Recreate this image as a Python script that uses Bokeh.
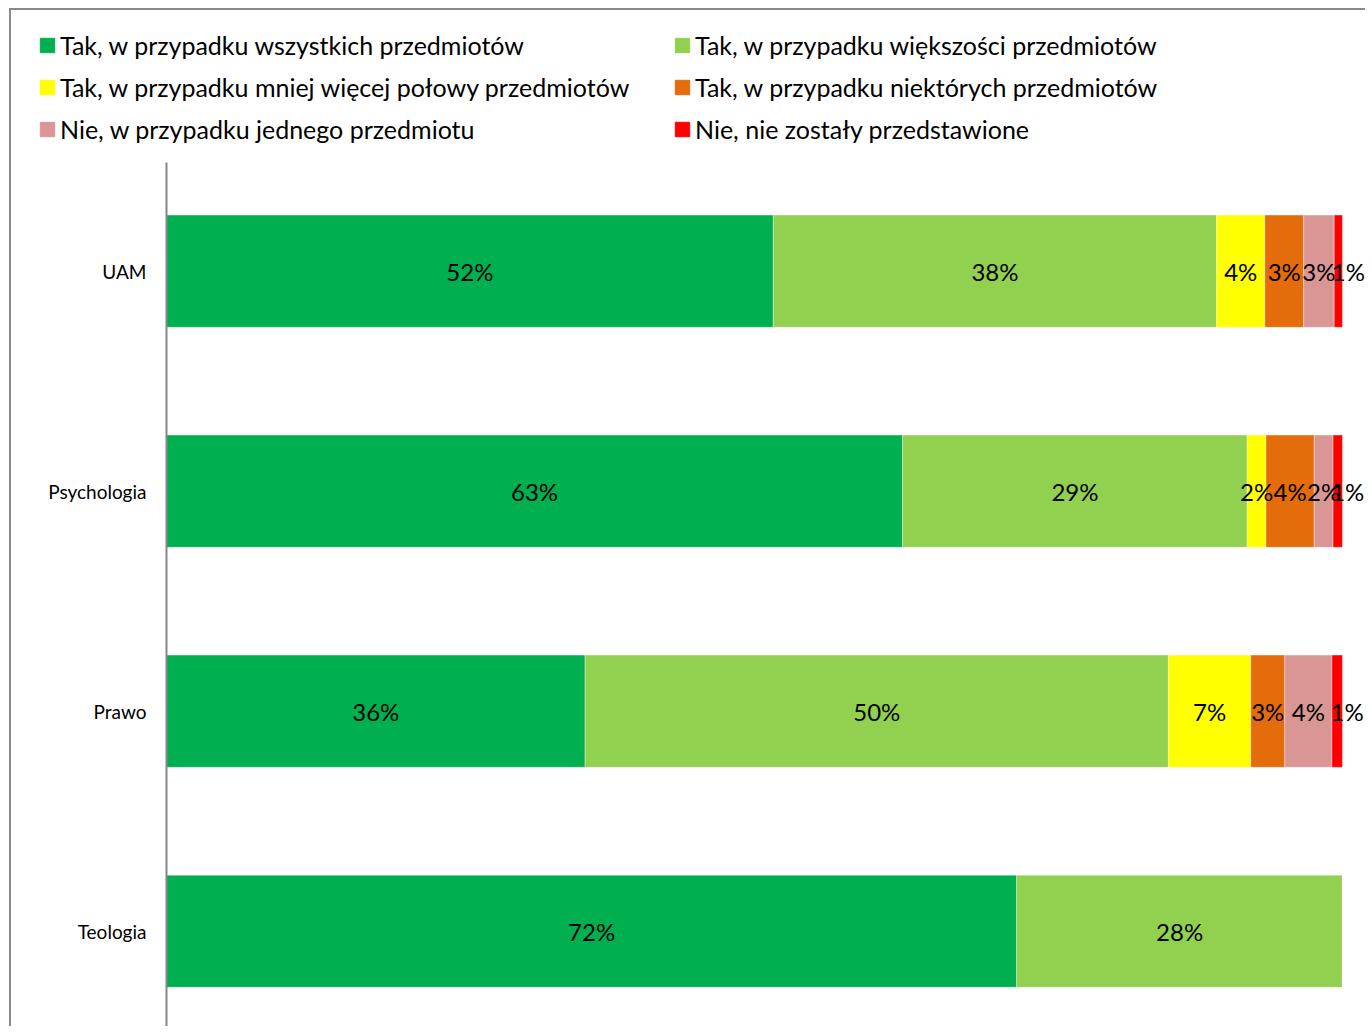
from bokeh.plotting import figure
from bokeh.layouts import column
from bokeh.models import ColumnDataSource, Range1d, Legend, LegendItem, FixedTicker
from bokeh.core.properties import value
from bokeh.embed import file_html
from bokeh.resources import INLINE

categories = ["UAM", "Psychologia", "Prawo", "Teologia"]
series_names = [
    "Tak, w przypadku wszystkich przedmiotów",
    "Tak, w przypadku większości przedmiotów",
    "Tak, w przypadku mniej więcej połowy przedmiotów",
    "Tak, w przypadku niektórych przedmiotów",
    "Nie, w przypadku jednego przedmiotu",
    "Nie, nie zostały przedstawione",
]
all_subjects = [51.6, 62.6, 35.6, 72.3]
most_subjects = [37.7, 29.3, 49.6, 27.7]
half_subjects = [4.1, 1.6, 7.0, 0.0]
some_subjects = [3.3, 4.1, 2.9, 0.0]
one_subject = [2.6, 1.6, 4.0, 0.0]
none_presented = [0.7, 0.8, 0.9, 0.0]
colors = ["#00B050", "#92D050", "#FFFF00", "#E46C0A", "#D99694", "#FF0000"]

series = [all_subjects, most_subjects, half_subjects, some_subjects, one_subject, none_presented]
keys = ["s0", "s1", "s2", "s3", "s4", "s5"]

FONT = "Lato"
W = 1354

pos = [i + 0.5 for i in range(len(categories))]
data = {"cat": categories, "pos": pos}
for k, s in zip(keys, series):
    data[k] = s
source = ColumnDataSource(data)

# ---- legend strip ----
top = figure(width=W, height=150, output_backend="svg", toolbar_location=None,
             x_range=Range1d(1000, 1001), y_range=Range1d(1000, 1001),
             min_border=0)
try:
    top.frame_align = False
except Exception:
    pass
top.axis.visible = False
top.grid.visible = False
top.outline_line_color = None
dummy = top.hbar_stack(keys, y="pos", height=0.5, color=colors, source=source)
legend = Legend(items=[LegendItem(label=n, renderers=[r]) for n, r in zip(series_names, dummy)],
                orientation="horizontal", ncols=2,
                location=(27, 16), margin=0, padding=0, spacing=12,
                glyph_width=18, glyph_height=18, label_standoff=4,
                label_width=601, label_height=30,
                label_text_font=FONT, label_text_font_size="25px", label_text_color="black",
                border_line_color=None, background_fill_alpha=0)
top.add_layout(legend)

# ---- main chart ----
p = figure(
    width=W, height=866,
    y_range=Range1d(3.933, 0.006),
    x_range=Range1d(0, 101.96),
    output_backend="svg", toolbar_location=None,
    min_border_left=155, min_border_right=0, min_border_top=2, min_border_bottom=0,
)
try:
    p.frame_align = False
except Exception:
    pass

p.hbar_stack(keys, y="pos", height=0.51, color=colors, source=source,
             line_color="white", line_width=0.6, line_alpha=0.6)

# data labels
lx, ly, lt, loff = [], [], [], []
for ci, cat in enumerate(categories):
    cum = 0.0
    for si, s in enumerate(series):
        v = s[ci]
        if v > 0:
            lx.append(cum + v / 2)
            ly.append(pos[ci])
            lt.append(f"{round(v)}%")
            loff.append(10 if si == len(series) - 1 else 0)
        cum += v
lsrc = ColumnDataSource(dict(x=lx, y=ly, t=lt, off=loff))
p.text(x="x", y="y", text="t", x_offset="off", source=lsrc, text_align="center",
       text_baseline="middle", text_font=value(FONT), text_font_size="24px", text_color="black")

p.xaxis.visible = False
p.xgrid.visible = False
p.ygrid.visible = False
p.outline_line_color = None

ax = p.yaxis[0]
ax.ticker = FixedTicker(ticks=pos)
ax.major_label_overrides = {pv: c for pv, c in zip(pos, categories)}
ax.axis_line_color = "#868686"
ax.axis_line_width = 2
ax.major_tick_line_color = None
ax.minor_tick_line_color = None
ax.major_label_text_font = FONT
ax.major_label_text_font_size = "19px"
ax.major_label_text_color = "black"
ax.major_label_standoff = 14

layout = column(top, p, spacing=0,
                styles={"border-left": "2px solid #898989", "border-top": "2px solid #898989",
                        "margin-left": "9px", "margin-top": "8px"})

open("out.html", "w").write(file_html(layout, INLINE))
